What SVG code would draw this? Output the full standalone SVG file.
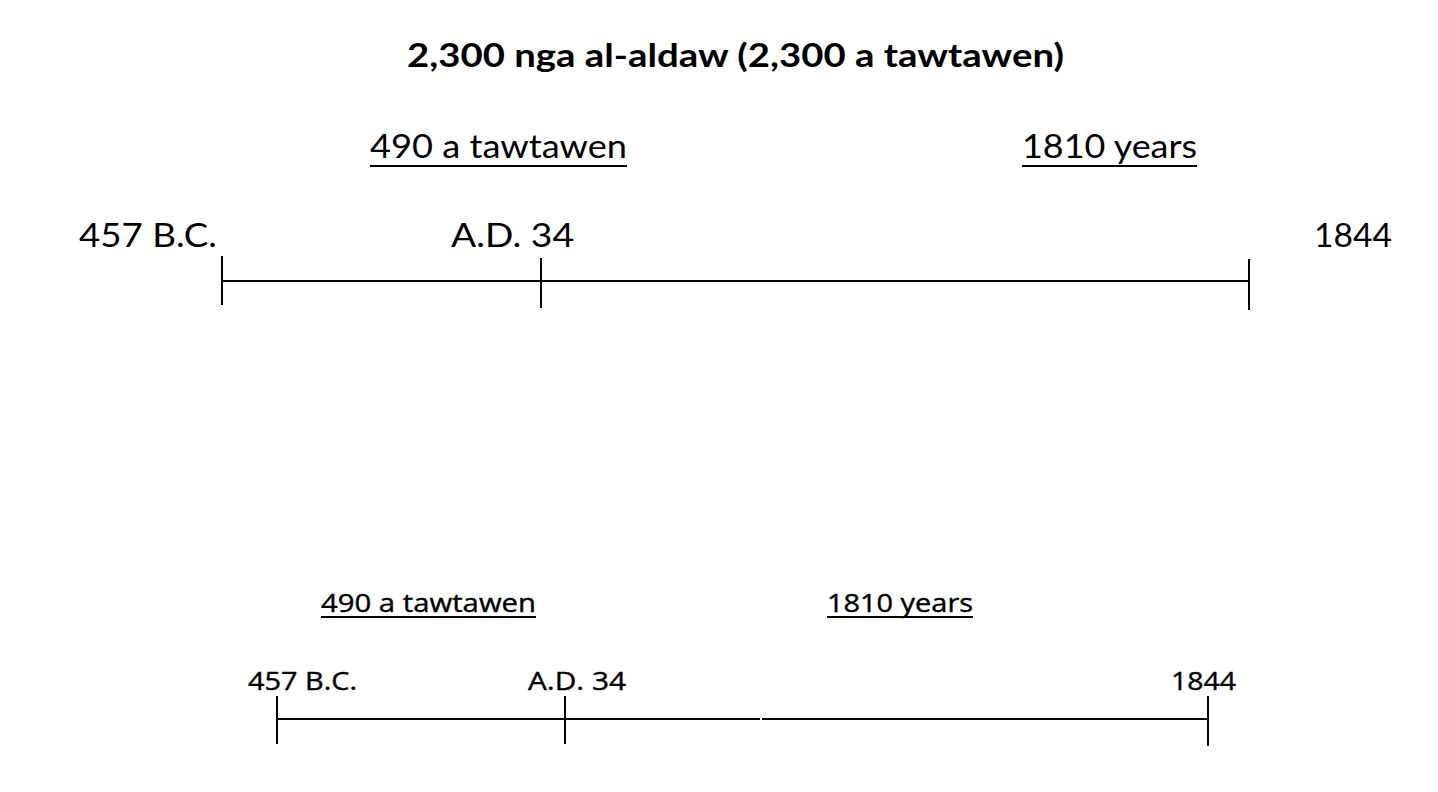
<svg xmlns="http://www.w3.org/2000/svg" width="1438" height="792" viewBox="0 0 1438 792">
<style>
.t{font-family:Lato,"Noto Sans",sans-serif;fill:#000}
.b{font-family:"Open Sans","Noto Sans",sans-serif;fill:#000;stroke:#000;stroke-width:0.4}
.ln{stroke:#000;stroke-width:2;fill:none}
.ln2{stroke:#000;stroke-width:2;fill:none}
</style>
<rect width="1438" height="792" fill="#fff"/>
<g id="title"><text class="t" x="407" y="67" font-size="33" font-weight="bold" textLength="657" lengthAdjust="spacingAndGlyphs">2,300 nga al-aldaw (2,300 a tawtawen)</text></g>
<g id="top-period-labels">
<text class="t" x="370" y="158" font-size="33" textLength="257" lengthAdjust="spacingAndGlyphs">490 a tawtawen</text>
<line class="ln" x1="370" y1="166" x2="627" y2="166"/>
<text class="t" x="1022" y="158" font-size="33" textLength="175" lengthAdjust="spacingAndGlyphs">1810 years</text>
<line class="ln" x1="1022" y1="166" x2="1197" y2="166"/>
</g>
<g id="top-dates">
<text class="t" x="79" y="247" font-size="33" textLength="138" lengthAdjust="spacingAndGlyphs">457 B.C.</text>
<text class="t" x="451" y="247" font-size="33" textLength="123" lengthAdjust="spacingAndGlyphs">A.D. 34</text>
<text class="t" x="1314" y="247" font-size="33" textLength="78" lengthAdjust="spacingAndGlyphs">1844</text>
</g>
<g id="top-timeline">
<line class="ln" x1="222" y1="281" x2="1249" y2="281"/>
<line class="ln" x1="222" y1="256" x2="222" y2="305"/>
<line class="ln" x1="541" y1="258" x2="541" y2="308"/>
<line class="ln" x1="1249" y1="259" x2="1249" y2="310"/>
</g>
<g id="bottom-period-labels">
<text class="b" x="321" y="612" font-size="25" textLength="215" lengthAdjust="spacingAndGlyphs">490 a tawtawen</text>
<line class="ln2" x1="321" y1="617" x2="536" y2="617"/>
<text class="b" x="827" y="612" font-size="25" textLength="146" lengthAdjust="spacingAndGlyphs">1810 years</text>
<line class="ln2" x1="827" y1="617" x2="973" y2="617"/>
</g>
<g id="bottom-dates">
<text class="b" x="248" y="690" font-size="25" textLength="109" lengthAdjust="spacingAndGlyphs">457 B.C.</text>
<text class="b" x="528" y="690" font-size="25" textLength="98" lengthAdjust="spacingAndGlyphs">A.D. 34</text>
<text class="b" x="1171" y="690" font-size="25" textLength="65" lengthAdjust="spacingAndGlyphs">1844</text>
</g>
<g id="bottom-timeline">
<line class="ln2" x1="277" y1="719" x2="760" y2="719"/>
<line class="ln2" x1="762" y1="719" x2="1208" y2="719"/>
<line class="ln2" x1="277" y1="696" x2="277" y2="744"/>
<line class="ln2" x1="565" y1="696" x2="565" y2="744"/>
<line class="ln2" x1="1208" y1="696" x2="1208" y2="746"/>
</g>
</svg>
